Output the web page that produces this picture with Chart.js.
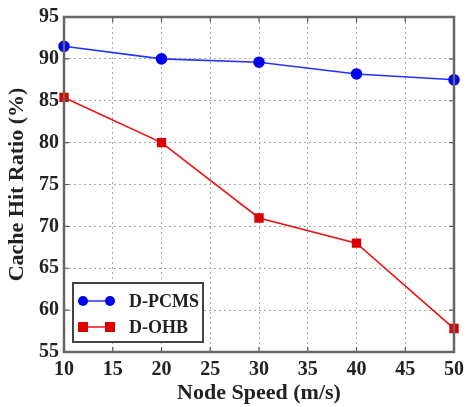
<!DOCTYPE html>
<html>
<head>
<meta charset="utf-8">
<script src="https://cdn.jsdelivr.net/npm/chart.js@4"></script>
<style>
  html, body { margin: 0; padding: 0; background: #fff; }
  #wrap { width: 470px; height: 407px; }
</style>
</head>
<body>
<div id="wrap"><canvas id="c" width="470" height="407"></canvas></div>
<script>
const speeds = [10, 20, 30, 40, 50];
const pcms = [91.5, 90.0, 89.6, 88.2, 87.5];
const ohb = [85.4, 80.0, 71.0, 68.0, 57.8];
const xTicks = [10, 15, 20, 25, 30, 35, 40, 45, 50];
const yTicks = [55, 60, 65, 70, 75, 80, 85, 90, 95];
const seriesNames = ['D-PCMS', 'D-OHB'];

const FONT = 'Liberation Serif, Times New Roman, serif';

const framePlugin = {
  id: 'frame',
  afterDraw(chart) {
    const { ctx, chartArea: a, scales } = chart;
    ctx.save();
    ctx.strokeStyle = '#555';
    ctx.lineWidth = 1.2;
    ctx.setLineDash([]);
    const tl = 5;
    xTicks.forEach(v => {
      const x = scales.x.getPixelForValue(v);
      ctx.beginPath();
      ctx.moveTo(x, a.bottom); ctx.lineTo(x, a.bottom - tl);
      ctx.moveTo(x, a.top); ctx.lineTo(x, a.top + tl);
      ctx.stroke();
    });
    yTicks.forEach(v => {
      const y = scales.y.getPixelForValue(v);
      ctx.beginPath();
      ctx.moveTo(a.left, y); ctx.lineTo(a.left + tl, y);
      ctx.moveTo(a.right, y); ctx.lineTo(a.right - tl, y);
      ctx.stroke();
    });
    ctx.strokeStyle = '#666';
    ctx.lineWidth = 2.5;
    ctx.strokeRect(a.left, a.top, a.right - a.left, a.bottom - a.top);

    const bx = a.left + 9, by = a.bottom - 69, bw = 130, bh = 59;
    ctx.fillStyle = '#fff';
    ctx.fillRect(bx, by, bw, bh);
    ctx.strokeStyle = '#444';
    ctx.lineWidth = 2;
    ctx.strokeRect(bx, by, bw, bh);
    chart.data.datasets.forEach((ds, i) => {
      const cy = by + 18 + i * 26;
      const x0 = bx + 10, x1 = bx + 37;
      ctx.strokeStyle = ds.borderColor;
      ctx.lineWidth = 1.5;
      ctx.beginPath(); ctx.moveTo(x0, cy); ctx.lineTo(x1, cy); ctx.stroke();
      ctx.fillStyle = ds.pointBackgroundColor;
      [x0, x1].forEach(px => {
        if (ds.pointStyle === 'rect') {
          ctx.fillRect(px - 5, cy - 5, 10, 10);
        } else {
          ctx.beginPath(); ctx.arc(px, cy, 5, 0, Math.PI * 2); ctx.fill();
        }
      });
      ctx.fillStyle = '#222';
      ctx.font = 'bold 18px ' + FONT;
      ctx.textBaseline = 'middle';
      ctx.textAlign = 'left';
      ctx.fillText(ds.label, bx + 56, cy + 1);
    });
    ctx.restore();
  }
};

new Chart(document.getElementById('c'), {
  type: 'line',
  data: {
    datasets: [
      {
        label: seriesNames[0],
        data: speeds.map((s, i) => ({ x: s, y: pcms[i] })),
        borderColor: '#2233ff',
        backgroundColor: '#0000ee',
        pointBackgroundColor: '#0000ee',
        pointBorderColor: '#0000ee',
        pointStyle: 'circle',
        pointRadius: 5,
        borderWidth: 1.6,
        tension: 0
      },
      {
        label: seriesNames[1],
        data: speeds.map((s, i) => ({ x: s, y: ohb[i] })),
        borderColor: '#ee1111',
        backgroundColor: '#dd0000',
        pointBackgroundColor: '#dd0000',
        pointBorderColor: '#dd0000',
        pointStyle: 'rect',
        pointRadius: 5.5,
        borderWidth: 1.6,
        tension: 0
      }
    ]
  },
  options: {
    responsive: false,
    animation: false,
    clip: false,
    layout: { padding: { left: 0, right: 11, top: 14, bottom: 0 } },
    plugins: { legend: { display: false }, tooltip: { enabled: false } },
    scales: {
      x: {
        type: 'linear', min: 10, max: 50,
        afterBuildTicks: s => { s.ticks = xTicks.map(v => ({ value: v })); },
        afterFit: s => { s.height = 55; },
        grid: { color: '#aaa', lineWidth: 1, borderDash: [2, 3], drawTicks: false },
        border: { display: false, dash: [2, 3] },
        ticks: { color: '#222', padding: 6, font: { family: FONT, size: 20, weight: 'bold' }, maxRotation: 0 },
        title: { display: true, text: 'Node Speed (m/s)', color: '#222', padding: { top: 0, bottom: 0 }, font: { family: FONT, size: 22, weight: 'bold' } }
      },
      y: {
        type: 'linear', min: 55, max: 95,
        afterBuildTicks: s => { s.ticks = yTicks.map(v => ({ value: v })); },
        afterFit: s => { s.width = 64; },
        grid: { color: '#aaa', lineWidth: 1, borderDash: [2, 3], drawTicks: false },
        border: { display: false, dash: [2, 3] },
        ticks: { color: '#222', padding: 5, font: { family: FONT, size: 20, weight: 'bold' } },
        title: { display: true, text: 'Cache Hit Ratio (%)', color: '#222', padding: { top: 4, bottom: 0 }, font: { family: FONT, size: 22, weight: 'bold' } }
      }
    }
  },
  plugins: [framePlugin]
});
</script>
</body>
</html>
